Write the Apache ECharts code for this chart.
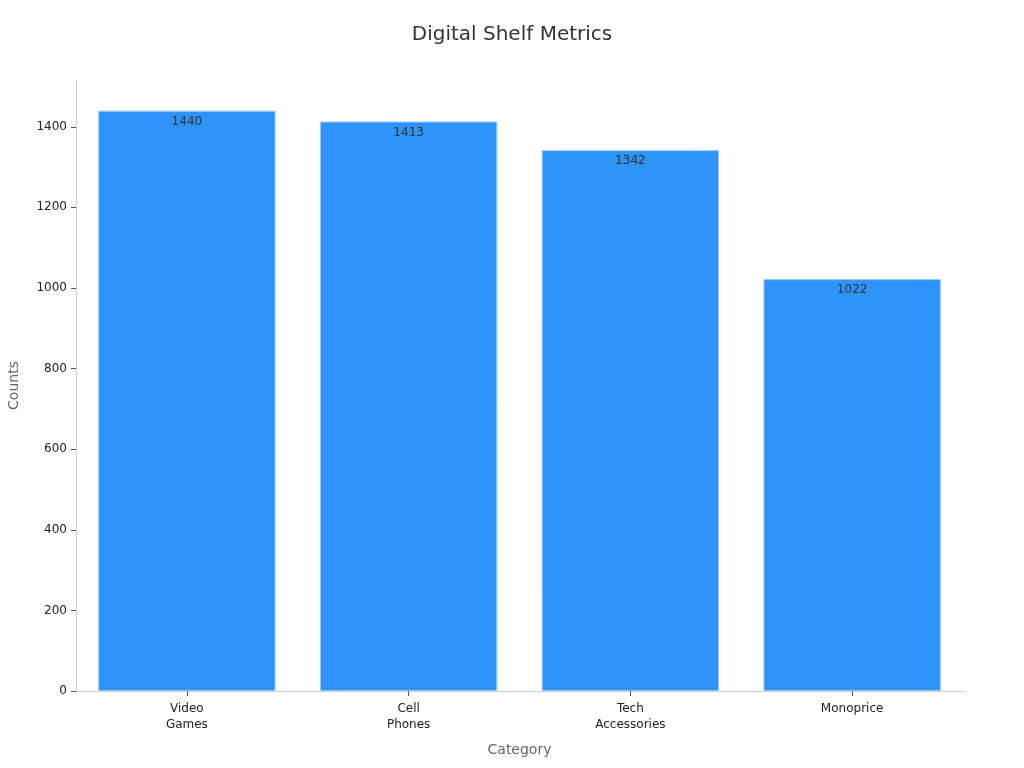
<!DOCTYPE html>
<html lang="en">
<head>
    <meta charset="UTF-8">
    <title>Digital Shelf Metrics</title>
    <script type="text/javascript" src="https://cdn.jsdelivr.net/npm/echarts@6/dist/echarts.min.js"></script>
    <style type="text/css">
        html, body { margin: 0; padding: 0; background: #ffffff; }
        #main { width: 1024px; height: 768px; }
    </style>
</head>
<body>
<div id="main"></div>
<script type="text/javascript">
    // data
    var categories = ['Video\nGames', 'Cell\nPhones', 'Tech\nAccessories', 'Monoprice'];
    var counts = [1440, 1413, 1342, 1022];
    var yTicks = [0, 200, 400, 600, 800, 1000, 1200, 1400];

    var chart = echarts.init(document.getElementById('main'));
    chart.setOption({
        title: {
            text: 'Digital Shelf Metrics',
            left: 'center',
            top: 20,
            textStyle: {
                fontFamily: 'DejaVu Sans',
                fontSize: 20,
                fontWeight: 'normal',
                color: '#333333'
            }
        },
        grid: {
            left: 76,
            right: 61,
            top: 80,
            bottom: 77,
            containLabel: false,
            outerBoundsMode: 'none'
        },
        xAxis: {
            type: 'category',
            data: categories,
            name: 'Category',
            nameLocation: 'middle',
            nameGap: 52,
            nameTextStyle: { fontFamily: 'DejaVu Sans', fontSize: 14, color: '#666666' },
            axisLine: { lineStyle: { color: '#cccccc' } },
            axisTick: { show: true, alignWithLabel: true, length: 5, lineStyle: { color: '#555555' } },
            axisLabel: { fontFamily: 'DejaVu Sans', fontSize: 12, color: '#222222', lineHeight: 16, margin: 10 }
        },
        yAxis: {
            type: 'value',
            min: 0,
            max: 1516,
            interval: 200,
            name: 'Counts',
            nameLocation: 'middle',
            nameGap: 55,
            nameTextStyle: { fontFamily: 'DejaVu Sans', fontSize: 14, color: '#666666' },
            axisLine: { show: true, lineStyle: { color: '#cccccc' } },
            axisTick: { show: true, length: 5, customValues: yTicks, lineStyle: { color: '#555555' } },
            axisLabel: {
                fontFamily: 'DejaVu Sans',
                fontSize: 12,
                color: '#222222',
                margin: 9,
                customValues: yTicks,
                formatter: function (v) { return String(v); }
            },
            splitLine: { show: false }
        },
        series: [
            {
                name: 'Counts',
                type: 'bar',
                data: counts,
                barCategoryGap: '20%',
                itemStyle: {
                    color: '#2e93fa',
                    borderColor: '#9ccaf7',
                    borderWidth: 1
                },
                label: {
                    show: true,
                    position: 'insideTop',
                    distance: 5,
                    fontFamily: 'DejaVu Sans',
                    fontSize: 12,
                    color: '#333333'
                }
            }
        ]
    });
</script>
</body>
</html>
